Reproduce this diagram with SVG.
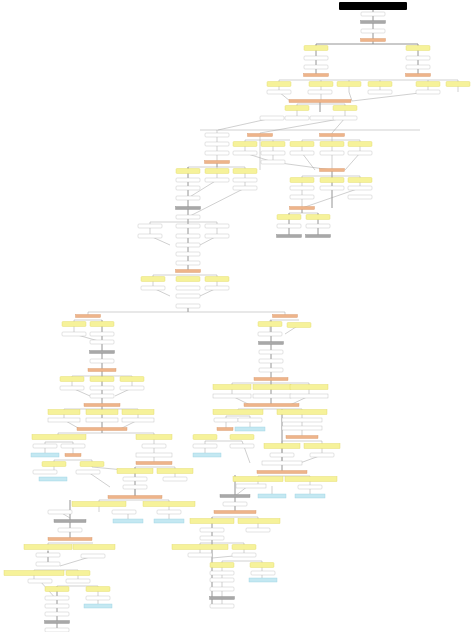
<svg xmlns="http://www.w3.org/2000/svg" xmlns:xlink="http://www.w3.org/1999/xlink" width="474" height="632" viewBox="0 0 474 632">
<style>
.Y{fill:#f6f29a;stroke:#e0d860;stroke-width:0.4}
.W{fill:#ffffff;stroke:#b8b8b8;stroke-width:0.4}
.O{fill:#eeb48a;stroke:#d89868;stroke-width:0.4}
.G{fill:#a8a8a8;stroke:#909090;stroke-width:0.4}
.C{fill:#c4e8f2;stroke:#98d0e0;stroke-width:0.4}
.K{fill:#000}
#edges path{fill:none;stroke:#a0a0a0;stroke-width:0.5}
#edges path.t{stroke:#888;stroke-width:0.9}
</style>
<defs>
<rect id="Y" class="Y" x="-12" y="-2.5" width="24" height="5" rx="1"/>
<rect id="W" class="W" x="-12" y="-2" width="24" height="4" rx="1"/>
<rect id="O" class="O" x="-12.5" y="-1.5" width="25" height="3"/>
<rect id="G" class="G" x="-12.5" y="-1.5" width="25" height="3"/>
<rect id="C" class="C" x="-14" y="-2" width="28" height="4"/>
</defs>
<rect width="474" height="632" fill="#fff"/>
<g id="edges">
<path class="t" d="M373 10V44M316 44H418M316 44V75M418 44V75"/>
<path d="M279 80H458M279 80V92M321 80V101M349 80V92M380 80V92M428 80V92M458 80V92M279 92L290 101M349 92L352 101M428 92L352 101"/>
<path class="t" d="M320 101V112"/>
<path d="M297 104H345M297 104V118M345 104V118M272 118L218 130M345 118L260 133M345 118L332 133"/>
<path d="M200 130H420M217 130V162M260 133V170M332 133V170M245 140H290M245 140V153M273 140V162M302 140H360M302 140V153M360 140V153M245 153L273 162M273 162L332 170M302 153L315 170M360 153L345 170"/>
<path class="t" d="M217 162V167M332 170V208M188 167V271M289 213V236M318 213V236M302 208V213M188 306V312"/>
<path d="M188 167H245M245 167V188M188 167V171M217 167V180M217 180L188 198M245 188L188 217M302 176H360M302 176V197M360 176V188M302 197L302 208M360 188L302 208M289 213H318"/>
<path d="M150 222H217M150 222V236M217 222V236M150 236L170 245M217 236L200 245M153 275H217M153 275V288M217 275V288M153 288L170 296M217 288L200 296"/>
<path d="M88 312H285M88 312V316M285 312V316"/>
<path class="t" d="M102 320V429M271 320V405M102 429V433M282 409V472M235 475V512M70 500V539M135 467V497M212 517V606M57 586V630M48 551V564"/>
<path d="M74 320H102M74 320V334M74 334L102 342M270 320H299M270 320V334M299 325L285 334M72 376H132M72 376V388M132 376V388M72 388L90 396M132 388L115 396M64 409H138M64 409V420M138 409V420M64 420L80 429M138 420L120 429"/>
<path d="M58 433H154M58 433V437M154 433V463M45 442H73M45 442V455M73 442V455M54 460H92M54 460V471M92 460V467M88 472L110 487M92 467L135 471M135 467H175M175 467V479M135 487V497"/>
<path d="M232 383H309M232 383V396M309 383V396M232 396L250 405M309 396L290 405M238 409H302M238 409V412M302 409V437M226 416H250M226 416V429M250 416V429M205 441H242M205 441V455M242 441L250 463M282 441H322M282 441V463M322 441V455M322 455L300 463"/>
<path d="M258 476H310M258 476V486M310 476V496M248 486L235 496M272 486V496M212 517H258M258 517V530M200 543H244M200 543V555M244 543V555M244 555L212 558M222 561H262M222 561V606M262 561V580"/>
<path d="M99 500H169M99 500V512M169 500V521M60 512L70 518M128 512V521M48 543H93M48 543V556M93 556L60 566M34 570H78M34 570V581M78 570V581M57 586H98M98 586V606M40 581L57 600"/>
</g>
<g id="n0"><rect class="K" x="339" y="2" width="68" height="8" rx="1"/></g>
<g id="n1"><use href="#W" x="373" y="14"/></g>
<g id="n2"><use href="#G" x="373" y="22"/></g>
<g id="n3"><use href="#W" x="373" y="31"/></g>
<g id="n4"><use href="#O" x="373" y="40"/></g>
<g id="n5"><use href="#Y" x="316" y="48"/></g>
<g id="n6"><use href="#W" x="316" y="58"/></g>
<g id="n7"><use href="#W" x="316" y="67"/></g>
<g id="n8"><use href="#O" x="316" y="75"/></g>
<g id="n9"><use href="#Y" x="418" y="48"/></g>
<g id="n10"><use href="#W" x="418" y="58"/></g>
<g id="n11"><use href="#W" x="418" y="67"/></g>
<g id="n12"><use href="#O" x="418" y="75"/></g>
<g id="n13"><use href="#Y" x="279" y="84"/></g>
<g id="n14"><use href="#Y" x="321" y="84"/></g>
<g id="n15"><use href="#Y" x="349" y="84"/></g>
<g id="n16"><use href="#Y" x="380" y="84"/></g>
<g id="n17"><use href="#Y" x="428" y="84"/></g>
<g id="n18"><use href="#Y" x="458" y="84"/></g>
<g id="n19"><use href="#W" x="279" y="92"/></g>
<g id="n20"><use href="#W" x="320" y="92"/></g>
<g id="n21"><use href="#W" x="380" y="92"/></g>
<g id="n22"><use href="#W" x="428" y="92"/></g>
<g id="n23"><rect class="O" x="289" y="99.5" width="62" height="3"/></g>
<g id="n24"><use href="#Y" x="297" y="108"/></g>
<g id="n25"><use href="#Y" x="345" y="108"/></g>
<g id="n26"><use href="#W" x="272" y="118"/></g>
<g id="n27"><use href="#W" x="297" y="118"/></g>
<g id="n28"><use href="#W" x="322" y="118"/></g>
<g id="n29"><use href="#W" x="345" y="118"/></g>
<g id="n30"><use href="#W" x="217" y="135"/></g>
<g id="n31"><use href="#O" x="260" y="135"/></g>
<g id="n32"><use href="#O" x="332" y="135"/></g>
<g id="n33"><use href="#Y" x="245" y="144"/></g>
<g id="n34"><use href="#Y" x="273" y="144"/></g>
<g id="n35"><use href="#Y" x="302" y="144"/></g>
<g id="n36"><use href="#Y" x="332" y="144"/></g>
<g id="n37"><use href="#Y" x="360" y="144"/></g>
<g id="n38"><use href="#W" x="245" y="153"/></g>
<g id="n39"><use href="#W" x="273" y="153"/></g>
<g id="n40"><use href="#W" x="302" y="153"/></g>
<g id="n41"><use href="#W" x="332" y="153"/></g>
<g id="n42"><use href="#W" x="360" y="153"/></g>
<g id="n43"><use href="#W" x="273" y="162"/></g>
<g id="n44"><use href="#O" x="332" y="170"/></g>
<g id="n45"><use href="#W" x="217" y="144"/></g>
<g id="n46"><use href="#W" x="217" y="153"/></g>
<g id="n47"><use href="#O" x="217" y="162"/></g>
<g id="n48"><use href="#Y" x="188" y="171"/></g>
<g id="n49"><use href="#Y" x="217" y="171"/></g>
<g id="n50"><use href="#Y" x="245" y="171"/></g>
<g id="n51"><use href="#W" x="188" y="180"/></g>
<g id="n52"><use href="#W" x="217" y="180"/></g>
<g id="n53"><use href="#W" x="245" y="180"/></g>
<g id="n54"><use href="#W" x="188" y="188"/></g>
<g id="n55"><use href="#W" x="245" y="188"/></g>
<g id="n56"><use href="#W" x="188" y="198"/></g>
<g id="n57"><use href="#G" x="188" y="208"/></g>
<g id="n58"><use href="#W" x="188" y="217"/></g>
<g id="n59"><use href="#W" x="150" y="226"/></g>
<g id="n60"><use href="#W" x="188" y="226"/></g>
<g id="n61"><use href="#W" x="217" y="226"/></g>
<g id="n62"><use href="#W" x="150" y="236"/></g>
<g id="n63"><use href="#W" x="188" y="236"/></g>
<g id="n64"><use href="#W" x="217" y="236"/></g>
<g id="n65"><use href="#W" x="188" y="245"/></g>
<g id="n66"><use href="#W" x="188" y="254"/></g>
<g id="n67"><use href="#W" x="188" y="263"/></g>
<g id="n68"><use href="#O" x="188" y="271"/></g>
<g id="n69"><use href="#Y" x="153" y="279"/></g>
<g id="n70"><use href="#Y" x="188" y="279"/></g>
<g id="n71"><use href="#Y" x="217" y="279"/></g>
<g id="n72"><use href="#W" x="153" y="288"/></g>
<g id="n73"><use href="#W" x="188" y="288"/></g>
<g id="n74"><use href="#W" x="217" y="288"/></g>
<g id="n75"><use href="#W" x="188" y="296"/></g>
<g id="n76"><use href="#W" x="188" y="306"/></g>
<g id="n77"><use href="#Y" x="302" y="180"/></g>
<g id="n78"><use href="#Y" x="332" y="180"/></g>
<g id="n79"><use href="#Y" x="360" y="180"/></g>
<g id="n80"><use href="#W" x="302" y="188"/></g>
<g id="n81"><use href="#W" x="332" y="188"/></g>
<g id="n82"><use href="#W" x="360" y="188"/></g>
<g id="n83"><use href="#W" x="302" y="197"/></g>
<g id="n84"><use href="#W" x="360" y="197"/></g>
<g id="n85"><use href="#O" x="302" y="208"/></g>
<g id="n86"><use href="#Y" x="289" y="217"/></g>
<g id="n87"><use href="#Y" x="318" y="217"/></g>
<g id="n88"><use href="#W" x="289" y="226"/></g>
<g id="n89"><use href="#W" x="318" y="226"/></g>
<g id="n90"><use href="#G" x="289" y="236"/></g>
<g id="n91"><use href="#G" x="318" y="236"/></g>
<g id="n92"><use href="#O" x="88" y="316"/></g>
<g id="n93"><use href="#O" x="285" y="316"/></g>
<g id="n94"><use href="#Y" x="74" y="324"/></g>
<g id="n95"><use href="#Y" x="102" y="324"/></g>
<g id="n96"><use href="#Y" x="270" y="324"/></g>
<g id="n97"><use href="#Y" x="299" y="325"/></g>
<g id="n98"><use href="#W" x="74" y="334"/></g>
<g id="n99"><use href="#W" x="102" y="334"/></g>
<g id="n100"><use href="#W" x="270" y="334"/></g>
<g id="n101"><use href="#W" x="102" y="342"/></g>
<g id="n102"><use href="#G" x="102" y="352"/></g>
<g id="n103"><use href="#G" x="271" y="343"/></g>
<g id="n104"><use href="#W" x="102" y="361"/></g>
<g id="n105"><use href="#W" x="271" y="352"/></g>
<g id="n106"><use href="#W" x="271" y="361"/></g>
<g id="n107"><use href="#W" x="271" y="370"/></g>
<g id="n108"><rect class="O" x="88" y="368.5" width="28" height="3"/></g>
<g id="n109"><rect class="O" x="254" y="377.5" width="34" height="3"/></g>
<g id="n110"><use href="#Y" x="72" y="379"/></g>
<g id="n111"><use href="#Y" x="102" y="379"/></g>
<g id="n112"><use href="#Y" x="132" y="379"/></g>
<g id="n113"><use href="#W" x="72" y="388"/></g>
<g id="n114"><use href="#W" x="102" y="388"/></g>
<g id="n115"><use href="#W" x="132" y="388"/></g>
<g id="n116"><use href="#W" x="102" y="396"/></g>
<g id="n117"><rect class="O" x="84" y="403.5" width="36" height="3"/></g>
<g id="n118"><rect class="Y" x="48" y="409.5" width="32" height="5"/></g>
<g id="n119"><rect class="Y" x="86" y="409.5" width="32" height="5"/></g>
<g id="n120"><rect class="Y" x="122" y="409.5" width="32" height="5"/></g>
<g id="n121"><rect class="W" x="48" y="418" width="32" height="4"/></g>
<g id="n122"><rect class="W" x="86" y="418" width="32" height="4"/></g>
<g id="n123"><rect class="W" x="122" y="418" width="32" height="4"/></g>
<g id="n124"><rect class="O" x="77" y="427.5" width="50" height="3"/></g>
<g id="n125"><rect class="Y" x="32" y="434.5" width="54" height="5"/></g>
<g id="n126"><rect class="Y" x="136" y="434.5" width="36" height="5"/></g>
<g id="n127"><use href="#W" x="45" y="446"/></g>
<g id="n128"><use href="#W" x="73" y="446"/></g>
<g id="n129"><use href="#W" x="154" y="446"/></g>
<g id="n130"><use href="#C" x="45" y="455"/></g>
<g id="n131"><rect class="O" x="65" y="453.5" width="16" height="3"/></g>
<g id="n132"><rect class="W" x="136" y="453" width="36" height="4"/></g>
<g id="n133"><rect class="O" x="136" y="461.5" width="36" height="3"/></g>
<g id="n134"><use href="#Y" x="54" y="464"/></g>
<g id="n135"><use href="#Y" x="92" y="464"/></g>
<g id="n136"><use href="#W" x="45" y="472"/></g>
<g id="n137"><use href="#W" x="88" y="472"/></g>
<g id="n138"><use href="#C" x="53" y="479"/></g>
<g id="n139"><rect class="Y" x="117" y="468.5" width="36" height="5"/></g>
<g id="n140"><rect class="Y" x="157" y="468.5" width="36" height="5"/></g>
<g id="n141"><use href="#W" x="135" y="479"/></g>
<g id="n142"><use href="#W" x="175" y="479"/></g>
<g id="n143"><use href="#W" x="135" y="487"/></g>
<g id="n144"><rect class="O" x="108" y="495.5" width="54" height="3"/></g>
<g id="n145"><rect class="Y" x="72" y="501.5" width="54" height="5"/></g>
<g id="n146"><rect class="Y" x="143" y="501.5" width="52" height="5"/></g>
<g id="n147"><use href="#W" x="60" y="512"/></g>
<g id="n148"><use href="#W" x="124" y="512"/></g>
<g id="n149"><use href="#W" x="169" y="512"/></g>
<g id="n150"><rect class="G" x="54" y="519.5" width="32" height="3"/></g>
<g id="n151"><rect class="C" x="113" y="519" width="30" height="4"/></g>
<g id="n152"><rect class="C" x="154" y="519" width="30" height="4"/></g>
<g id="n153"><use href="#W" x="70" y="530"/></g>
<g id="n154"><rect class="O" x="48" y="537.5" width="44" height="3"/></g>
<g id="n155"><rect class="Y" x="24" y="544.5" width="48" height="5"/></g>
<g id="n156"><rect class="Y" x="73" y="544.5" width="42" height="5"/></g>
<g id="n157"><use href="#W" x="48" y="555"/></g>
<g id="n158"><use href="#W" x="93" y="556"/></g>
<g id="n159"><use href="#W" x="48" y="564"/></g>
<g id="n160"><rect class="Y" x="4" y="570.5" width="60" height="5"/></g>
<g id="n161"><use href="#Y" x="78" y="573"/></g>
<g id="n162"><use href="#W" x="40" y="581"/></g>
<g id="n163"><use href="#W" x="78" y="581"/></g>
<g id="n164"><use href="#Y" x="57" y="589"/></g>
<g id="n165"><use href="#Y" x="98" y="589"/></g>
<g id="n166"><use href="#W" x="57" y="598"/></g>
<g id="n167"><use href="#W" x="98" y="598"/></g>
<g id="n168"><use href="#C" x="98" y="606"/></g>
<g id="n169"><use href="#W" x="57" y="606"/></g>
<g id="n170"><use href="#W" x="57" y="614"/></g>
<g id="n171"><use href="#G" x="57" y="622"/></g>
<g id="n172"><use href="#W" x="57" y="630"/></g>
<g id="n173"><rect class="Y" x="213" y="384.5" width="38" height="5"/></g>
<g id="n174"><rect class="Y" x="253" y="384.5" width="38" height="5"/></g>
<g id="n175"><rect class="Y" x="290" y="384.5" width="38" height="5"/></g>
<g id="n176"><rect class="W" x="213" y="394" width="38" height="4"/></g>
<g id="n177"><rect class="W" x="253" y="394" width="38" height="4"/></g>
<g id="n178"><rect class="W" x="290" y="394" width="38" height="4"/></g>
<g id="n179"><rect class="O" x="244" y="403.5" width="55" height="3"/></g>
<g id="n180"><rect class="Y" x="213" y="409.5" width="50" height="5"/></g>
<g id="n181"><rect class="Y" x="277" y="409.5" width="50" height="5"/></g>
<g id="n182"><use href="#W" x="226" y="420"/></g>
<g id="n183"><use href="#W" x="250" y="420"/></g>
<g id="n184"><rect class="W" x="282" y="418" width="40" height="4"/></g>
<g id="n185"><rect class="O" x="217" y="427.5" width="16" height="3"/></g>
<g id="n186"><rect class="C" x="235" y="427" width="30" height="4"/></g>
<g id="n187"><rect class="W" x="282" y="426" width="40" height="4"/></g>
<g id="n188"><rect class="O" x="286" y="435.5" width="32" height="3"/></g>
<g id="n189"><use href="#Y" x="205" y="437"/></g>
<g id="n190"><use href="#Y" x="242" y="437"/></g>
<g id="n191"><use href="#W" x="205" y="446"/></g>
<g id="n192"><use href="#W" x="242" y="446"/></g>
<g id="n193"><rect class="Y" x="264" y="443.5" width="36" height="5"/></g>
<g id="n194"><rect class="Y" x="304" y="443.5" width="36" height="5"/></g>
<g id="n195"><use href="#C" x="207" y="455"/></g>
<g id="n196"><use href="#W" x="282" y="455"/></g>
<g id="n197"><use href="#W" x="322" y="455"/></g>
<g id="n198"><rect class="W" x="262" y="461" width="40" height="4"/></g>
<g id="n199"><rect class="O" x="257" y="470.5" width="50" height="3"/></g>
<g id="n200"><rect class="Y" x="233" y="476.5" width="50" height="5"/></g>
<g id="n201"><rect class="Y" x="285" y="476.5" width="52" height="5"/></g>
<g id="n202"><rect class="W" x="236" y="484" width="30" height="4"/></g>
<g id="n203"><use href="#W" x="310" y="487"/></g>
<g id="n204"><rect class="G" x="220" y="494.5" width="30" height="3"/></g>
<g id="n205"><use href="#C" x="272" y="496"/></g>
<g id="n206"><rect class="C" x="295" y="494" width="30" height="4"/></g>
<g id="n207"><use href="#W" x="235" y="504"/></g>
<g id="n208"><rect class="O" x="214" y="510.5" width="42" height="3"/></g>
<g id="n209"><rect class="Y" x="190" y="518.5" width="44" height="5"/></g>
<g id="n210"><rect class="Y" x="238" y="518.5" width="42" height="5"/></g>
<g id="n211"><use href="#W" x="212" y="530"/></g>
<g id="n212"><use href="#W" x="258" y="530"/></g>
<g id="n213"><use href="#W" x="212" y="538"/></g>
<g id="n214"><rect class="Y" x="172" y="544.5" width="56" height="5"/></g>
<g id="n215"><use href="#Y" x="244" y="547"/></g>
<g id="n216"><use href="#W" x="200" y="555"/></g>
<g id="n217"><use href="#W" x="244" y="555"/></g>
<g id="n218"><use href="#Y" x="222" y="565"/></g>
<g id="n219"><use href="#Y" x="262" y="565"/></g>
<g id="n220"><use href="#W" x="222" y="573"/></g>
<g id="n221"><use href="#W" x="263" y="573"/></g>
<g id="n222"><use href="#W" x="222" y="580"/></g>
<g id="n223"><use href="#C" x="263" y="580"/></g>
<g id="n224"><use href="#W" x="222" y="589"/></g>
<g id="n225"><use href="#G" x="222" y="598"/></g>
<g id="n226"><use href="#W" x="222" y="606"/></g>
</svg>
